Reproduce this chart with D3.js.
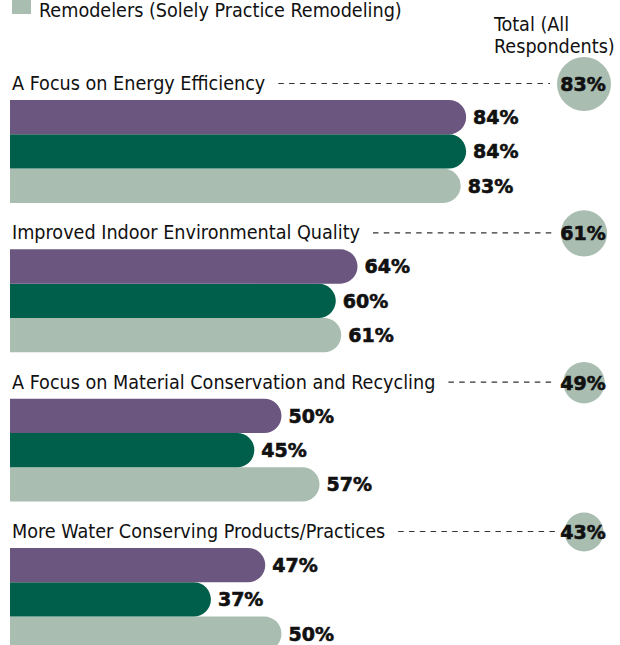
<!DOCTYPE html>
<html>
<head>
<meta charset="utf-8">
<script src="https://cdn.jsdelivr.net/npm/d3@7"></script>
<style>
  body { margin: 0; background: #fff; }
  svg { display: block; }
  .lbl { font-family: "Liberation Sans Narrow", "DejaVu Sans Condensed", sans-serif; font-size: 19.6px; fill: #111; }
  .val { font-family: "DejaVu Sans", sans-serif; font-weight: bold; font-size: 19px; fill: #111; stroke: #111; stroke-width: 0.6px; }
</style>
</head>
<body>
<svg id="chart"></svg>
<script>
// Chart settings
const WIDTH = 620;
const HEIGHT = 645;

const PURPLE = '#6b567f';
const GREEN = '#005f4a';
const GRAY = '#a9bdb1';

// Categories (top to bottom)
const categories = [
    'A Focus on Energy Efficiency',
    'Improved Indoor Environmental Quality',
    'A Focus on Material Conservation and Recycling',
    'More Water Conserving Products/Practices'
];

// Series values, one per category
const purpleValues = [84, 64, 50, 47];
const greenValues = [84, 60, 45, 37];
const grayValues = [83, 61, 57, 50];
const totalValues = [83, 61, 49, 43];

const seriesColors = [PURPLE, GREEN, GRAY];
const seriesValues = [purpleValues, greenValues, grayValues];

// Only the last legend item is visible in the picture
const legendLabel = 'Remodelers (Solely Practice Remodeling)';
const totalHeader = ['Total (All', 'Respondents)'];

const svg = d3.select('svg#chart').attr('width', WIDTH).attr('height', HEIGHT);

// Scales
const x = d3.scaleLinear().domain([0, 100]).range([10, 553]);
const groupTop = d3.scalePoint().domain(d3.range(categories.length)).range([100, 548]);
const BAR_H = 34.3;
const rTotal = d3.scaleSqrt().domain([0, 83]).range([0, 27]);
const CIRCLE_X = 584;

// Legend (cropped at the top in the original)
svg.append('rect')
    .attr('x', 12).attr('y', -6).attr('width', 19).attr('height', 20)
    .attr('fill', GRAY);
svg.append('text').attr('class', 'lbl')
    .attr('x', 39).attr('y', 17)
    .text(legendLabel);

// Total column header
svg.append('text').attr('class', 'lbl')
    .selectAll('tspan').data(totalHeader).enter().append('tspan')
    .attr('x', 494)
    .attr('y', (d, i) => 31 + i * 22)
    .text(d => d);

// Rounded-end bar path
function barPath(x0, x1, y, h) {
    const r = h / 2;
    return `M${x0},${y} L${x1 - r},${y} A${r},${r} 0 0 1 ${x1 - r},${y + h} L${x0},${y + h} Z`;
}

categories.forEach((cat, i) => {
    const top = groupTop(i);
    const g = svg.append('g');

    // Category label
    const label = g.append('text').attr('class', 'lbl')
        .attr('x', 12).attr('y', top - 10)
        .text(cat);
    const labelEnd = 12 + label.node().getComputedTextLength();

    // Total circle
    const r = rTotal(totalValues[i]);
    const cy = top - 16;

    // Dashed leader line
    g.append('line')
        .attr('x1', labelEnd + 13).attr('x2', CIRCLE_X - r - 7)
        .attr('y1', top - 16.5).attr('y2', top - 16.5)
        .attr('stroke', '#333').attr('stroke-width', 1.2)
        .attr('stroke-dasharray', '5.5,5.3');

    g.append('circle')
        .attr('cx', CIRCLE_X).attr('cy', cy).attr('r', r)
        .attr('fill', GRAY);
    g.append('text').attr('class', 'val')
        .attr('x', CIRCLE_X - 1).attr('y', cy + 7)
        .attr('text-anchor', 'middle')
        .text(totalValues[i] + '%');

    // Bars (drawn bottom first so upper rounded ends sit on top)
    for (let s = seriesValues.length - 1; s >= 0; s--) {
        const v = seriesValues[s][i];
        const y = top + s * BAR_H;
        g.append('path')
            .attr('d', barPath(x(0), x(v), y, BAR_H))
            .attr('fill', seriesColors[s]);
        g.append('text').attr('class', 'val')
            .attr('x', x(v) + 7).attr('y', y + BAR_H / 2 + 7)
            .text(v + '%');
    }
});
</script>
</body>
</html>
